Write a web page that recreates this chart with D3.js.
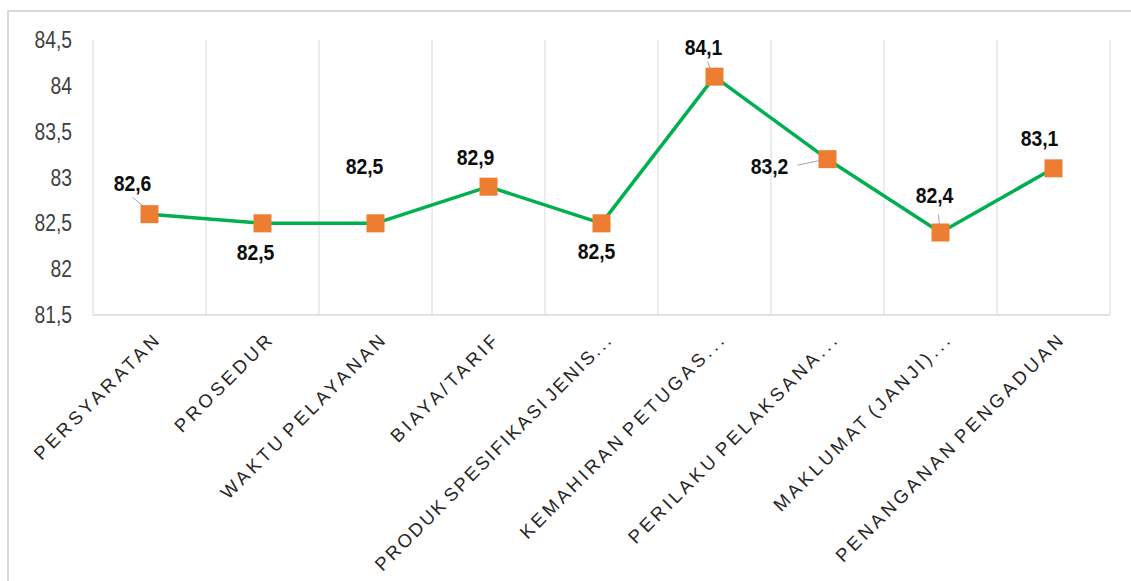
<!DOCTYPE html>
<html>
<head>
<meta charset="utf-8">
<script src="https://cdn.jsdelivr.net/npm/d3@7"></script>
<style>
  body { margin: 0; background: #fff; }
  svg { display: block; }
</style>
</head>
<body>
<div id="chart"></div>
<script>
// data
var categories = [
  "PERSYARATAN",
  "PROSEDUR",
  "WAKTU PELAYANAN",
  "BIAYA/TARIF",
  "PRODUK SPESIFIKASI JENIS...",
  "KEMAHIRAN PETUGAS...",
  "PERILAKU PELAKSANA...",
  "MAKLUMAT (JANJI)...",
  "PENANGANAN PENGADUAN"
];
var values = [82.6, 82.5, 82.5, 82.9, 82.5, 84.1, 83.2, 82.4, 83.1];
var yTicks = [81.5, 82, 82.5, 83, 83.5, 84, 84.5];

var width = 1131, height = 581;
var margin = { top: 40, right: 21, bottom: 266, left: 93 };

var fmt = d => String(d).replace(".", ",");

// squeeze text horizontally to look like a narrow font
function narrow(sel, k) {
  sel.each(function() {
    var len = this.getComputedTextLength();
    d3.select(this)
      .attr("textLength", len * k)
      .attr("lengthAdjust", "spacingAndGlyphs");
  });
}

var svg = d3.select("#chart")
  .append("svg")
  .attr("width", width)
  .attr("height", height);

// chart area border
svg.append("rect")
  .attr("x", 8)
  .attr("y", 11)
  .attr("width", width + 20)
  .attr("height", height + 20)
  .attr("fill", "none")
  .attr("stroke", "#d9d9d9")
  .attr("stroke-width", 2);

var xScale = d3.scaleBand()
  .domain(categories)
  .range([margin.left, width - margin.right])
  .padding(0);

var yScale = d3.scaleLinear()
  .domain([d3.min(yTicks), d3.max(yTicks)])
  .range([height - margin.bottom, margin.top]);

var cx = d => xScale(d) + xScale.bandwidth() / 2;

// vertical grid at category boundaries
var bounds = categories.map(c => xScale(c)).concat([width - margin.right]);
svg.append("g")
  .attr("class", "grid")
  .selectAll("line")
  .data(bounds)
  .enter()
  .append("line")
  .attr("x1", d => d)
  .attr("x2", d => d)
  .attr("y1", margin.top)
  .attr("y2", height - margin.bottom)
  .style("stroke", "#d9d9d9")
  .style("stroke-width", 1);

// bottom axis line
svg.append("line")
  .attr("x1", margin.left)
  .attr("x2", width - margin.right)
  .attr("y1", height - margin.bottom)
  .attr("y2", height - margin.bottom)
  .style("stroke", "#d9d9d9")
  .style("stroke-width", 1.5);

// Y axis labels
var yAxis = d3.axisLeft(yScale)
  .tickValues(yTicks)
  .tickSize(0)
  .tickPadding(21)
  .tickFormat(fmt);

svg.append("g")
  .attr("transform", `translate(${margin.left},0)`)
  .attr("class", "y-axis")
  .call(yAxis)
  .call(g => g.select(".domain").remove())
  .selectAll("text")
  .style("font-family", "'Liberation Sans', Arial, sans-serif")
  .style("font-size", "23.5px")
  .style("fill", "#404040")
  .call(narrow, 0.82);

// X labels, rotated; long ones get fitted like the truncated excel labels
svg.append("g")
  .attr("class", "x-labels")
  .selectAll("text")
  .data(categories)
  .enter()
  .append("text")
  .text(d => d)
  .attr("transform", d => `translate(${cx(d) + 13},${height - margin.bottom + 25}) rotate(-45)`)
  .attr("text-anchor", "end")
  .style("font-family", "'Liberation Sans', Arial, sans-serif")
  .style("font-size", "18.5px")
  .style("letter-spacing", "3.4px")
  .style("word-spacing", "-4px")
  .style("fill", "#262626")
  .each(function() {
    var len = this.getComputedTextLength();
    if (len > 328) {
      d3.select(this)
        .attr("textLength", 328)
        .attr("lengthAdjust", "spacing");
    }
  });

// line
var line = d3.line()
  .x((d, i) => cx(categories[i]))
  .y(d => yScale(d));

svg.append("path")
  .datum(values)
  .attr("d", line)
  .attr("fill", "none")
  .style("stroke", "#00b050")
  .style("stroke-width", 3.5)
  .style("stroke-linejoin", "round");

// label placement (offset of label centre from marker, optional leader line)
var labelLayout = [
  { dx: -17, dy: -31, lead: [-17, -17, -3, -5] },
  { dx: -7, dy: 29 },
  { dx: -11, dy: -57 },
  { dx: -13, dy: -30 },
  { dx: -5, dy: 28 },
  { dx: -11, dy: -30, lead: [-7, -15, -2, -3] },
  { dx: -58, dy: 7, lead: [-30, 6, -6, 1] },
  { dx: -6, dy: -38, lead: [-2, -18, -1, -5] },
  { dx: -14, dy: -30 }
];

var labels = svg.append("g").attr("class", "data-labels");

labels.selectAll("line")
  .data(values.map((v, i) => ({ v: v, i: i })).filter(d => labelLayout[d.i].lead))
  .enter()
  .append("line")
  .attr("x1", d => cx(categories[d.i]) + labelLayout[d.i].lead[0])
  .attr("y1", d => yScale(d.v) + labelLayout[d.i].lead[1])
  .attr("x2", d => cx(categories[d.i]) + labelLayout[d.i].lead[2])
  .attr("y2", d => yScale(d.v) + labelLayout[d.i].lead[3])
  .style("stroke", "#a6a6a6")
  .style("stroke-width", 1);

// markers
var size = 18;
svg.append("g")
  .attr("class", "markers")
  .selectAll("rect")
  .data(values)
  .enter()
  .append("rect")
  .attr("x", (d, i) => cx(categories[i]) - size / 2)
  .attr("y", d => yScale(d) - size / 2)
  .attr("width", size)
  .attr("height", size)
  .style("fill", "#ed7d31");

labels.selectAll("text")
  .data(values)
  .enter()
  .append("text")
  .text(fmt)
  .attr("x", (d, i) => cx(categories[i]) + labelLayout[i].dx)
  .attr("y", (d, i) => yScale(d) + labelLayout[i].dy)
  .attr("dy", "0.36em")
  .attr("text-anchor", "middle")
  .style("font-family", "'Liberation Sans', Arial, sans-serif")
  .style("font-weight", "bold")
  .style("font-size", "22.5px")
  .style("fill", "#0d0d0d")
  .call(narrow, 0.86);
</script>
</body>
</html>
